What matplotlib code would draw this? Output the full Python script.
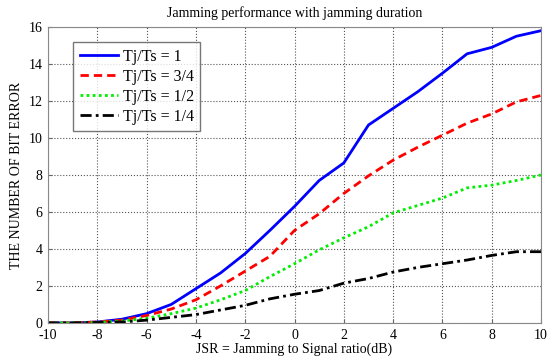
import matplotlib
matplotlib.use("Agg")
import matplotlib.pyplot as plt

jsr = list(range(-10, 11))
tj_1 = [0, 0, 0.05, 0.2, 0.5, 1.0, 1.85, 2.7, 3.75, 5.0, 6.3, 7.7, 8.65, 10.7, 11.6, 12.5, 13.5, 14.55, 14.9, 15.5, 15.8]
tj_34 = [0, 0, 0.05, 0.15, 0.4, 0.75, 1.25, 2.0, 2.8, 3.6, 5.0, 5.9, 7.0, 7.95, 8.8, 9.5, 10.15, 10.8, 11.3, 11.95, 12.3]
tj_12 = [0, 0, 0.03, 0.1, 0.25, 0.5, 0.8, 1.25, 1.75, 2.5, 3.2, 3.95, 4.6, 5.2, 5.95, 6.35, 6.75, 7.3, 7.45, 7.7, 8.0]
tj_14 = [0, 0, 0.02, 0.05, 0.15, 0.3, 0.45, 0.7, 0.95, 1.3, 1.55, 1.75, 2.15, 2.4, 2.75, 3.0, 3.2, 3.4, 3.65, 3.85, 3.85]
labels = ["Tj/Ts = 1", "Tj/Ts = 3/4", "Tj/Ts = 1/2", "Tj/Ts = 1/4"]

plt.rcParams['font.family'] = ['Liberation Serif', 'DejaVu Serif']
plt.rcParams['axes.unicode_minus'] = False
fig = plt.figure(figsize=(5.54, 3.58), dpi=100)
ax = fig.add_axes([0.0866, 0.098, 0.89, 0.8266])

ax.plot(jsr, tj_1, color='#0000ff', lw=2, ls='-', label=labels[0])
ax.plot(jsr, tj_34, color='#ff0000', lw=2, ls=(0, (3, 1.8)), label=labels[1])
ax.plot(jsr, tj_12, color='#00ee00', lw=2, ls=(0, (1, 1.2)), label=labels[2])
ax.plot(jsr, tj_14, color='black', lw=2, ls=(0, (4, 1.5, 1, 1.5)), label=labels[3])

ax.set_xlim(-10, 10)
ax.set_ylim(0, 16)
ax.set_xticks(range(-10, 11, 2))
ax.set_yticks(range(0, 17, 2))
ax.grid(True, ls=':', color='#555555', lw=0.8)
ax.tick_params(direction='in', labelsize=10, length=3, color='#666666')
ax.tick_params(axis='x', pad=4.5)
ax.tick_params(axis='y', pad=4)
for s in ax.spines.values():
    s.set_color('#888888')

ax.set_title("Jamming performance with jamming duration", fontsize=10, pad=7)
ax.set_xlabel("JSR = Jamming to Signal ratio(dB)", fontsize=10, labelpad=0)
ax.set_ylabel("THE NUMBER OF BIT ERROR", fontsize=10, labelpad=4)

leg = ax.legend(loc='upper left', bbox_to_anchor=(0.035, 0.975), fontsize=11.5,
                frameon=True, fancybox=False, handlelength=2.4, borderpad=0.4,
                labelspacing=0.25, handletextpad=0.3)
leg.get_frame().set_edgecolor('#555555')
leg.get_frame().set_linewidth(1.0)

fig.savefig("out.png", dpi=100)
